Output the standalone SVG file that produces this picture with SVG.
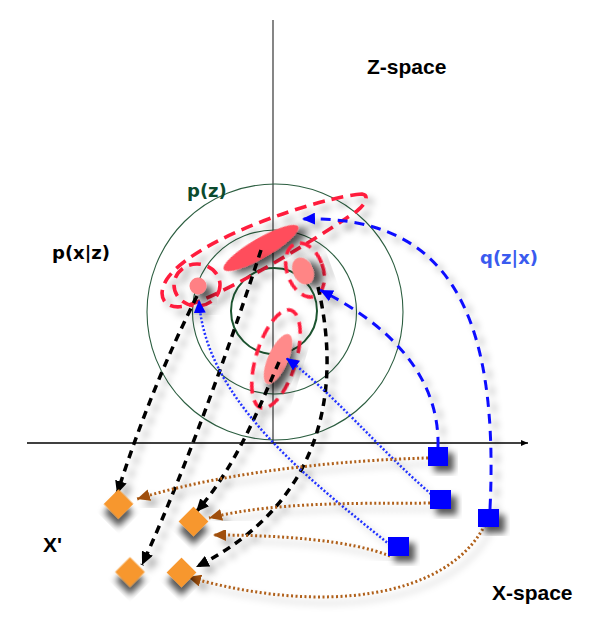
<svg xmlns="http://www.w3.org/2000/svg" width="607" height="638" viewBox="0 0 607 638">
<style>
.ring{fill:none;stroke:#2c5e40;stroke-width:1.1}
.ringin{fill:none;stroke:#1c5530;stroke-width:2}
.rd{fill:none;stroke:#ff1f3c;stroke-width:3.6;stroke-dasharray:12 7;filter:url(#shl)}
.rf{filter:url(#shr)}
.bk{fill:none;stroke:#000;stroke-width:3.5;stroke-dasharray:8 6;filter:url(#shl);marker-end:url(#ak)}
.bl{fill:none;stroke:#1010ff;stroke-width:3;stroke-dasharray:10 7;filter:url(#shl);marker-end:url(#ab)}
.bd{fill:none;stroke:#2030ff;stroke-width:2.5;stroke-dasharray:2 2;filter:url(#shl);marker-end:url(#ab)}
.br{fill:none;stroke:#b0601a;stroke-width:3;stroke-dasharray:2 2.5;filter:url(#shl);marker-end:url(#abr)}
.sq{fill:#0000ff;filter:url(#sh)}
.dm{fill:#f7972f;filter:url(#sh)}
.t{font-family:"Liberation Sans",Arial,sans-serif;font-weight:bold;font-size:21px;fill:#000}
.v{font-family:"DejaVu Sans",Verdana,sans-serif;font-weight:bold;font-size:18px}
</style>
<defs>
<filter id="sh" x="-50%" y="-50%" width="200%" height="200%">
<feDropShadow dx="6" dy="6" stdDeviation="3" flood-color="#000" flood-opacity="0.65"/>
</filter>
<filter id="shr" x="-60%" y="-60%" width="220%" height="220%">
<feDropShadow dx="7" dy="7" stdDeviation="4" flood-color="#000" flood-opacity="0.7"/>
</filter>
<filter id="shl" x="-20%" y="-20%" width="140%" height="140%">
<feDropShadow dx="6" dy="6" stdDeviation="3.5" flood-color="#000" flood-opacity="0.33"/>
</filter>
<marker id="ak" markerUnits="userSpaceOnUse" markerWidth="14" markerHeight="12" refX="13" refY="6" orient="auto"><path d="M0,0 L13,6 L0,12 z" fill="#000"/></marker>
<marker id="ab" markerUnits="userSpaceOnUse" markerWidth="14" markerHeight="12" refX="13" refY="6" orient="auto"><path d="M0,0 L13,6 L0,12 z" fill="#0000ff"/></marker>
<marker id="abr" markerUnits="userSpaceOnUse" markerWidth="14" markerHeight="12" refX="13" refY="6" orient="auto"><path d="M0,0 L13,6 L0,12 z" fill="#a0500a"/></marker>
<marker id="aa" markerUnits="userSpaceOnUse" markerWidth="8" markerHeight="6" refX="7" refY="3" orient="auto"><path d="M0,0 L7,3 L0,6 z" fill="#000"/></marker>
</defs>
<rect width="607" height="638" fill="#fff"/>
<g id="axes">
<line x1="273" y1="20" x2="273" y2="443" stroke="#444" stroke-width="1.3"/>
<path d="M27 443 H528" stroke="#000" stroke-width="1.3" marker-end="url(#aa)"/>
</g>
<g id="pz-circles">
<circle class="ring" cx="275" cy="312" r="128"/>
<circle class="ring" cx="274.5" cy="312" r="82"/>
<circle class="ringin" cx="274" cy="311" r="43"/>
</g>
<g id="z-big">
<path class="rd" d="M362 194 C322 197 195 238 167 279 C155 298 166 312 189 305 C236 289 330 230 357 211 C367 203 369 195 362 194 Z"/>
<ellipse class="rf" cx="261" cy="248" rx="43" ry="10" transform="rotate(-30 261 248)" fill="#ff4d5b"/>
</g>
<g id="z-left">
<ellipse class="rd" cx="197" cy="285" rx="23" ry="21"/>
<circle class="rf" cx="198" cy="286" r="8.5" fill="#ff8084"/>
</g>
<g id="z-right">
<ellipse class="rd" cx="305" cy="270" rx="18" ry="28" transform="rotate(-20 305 270)"/>
<ellipse class="rf" cx="303" cy="271" rx="10" ry="14" transform="rotate(-25 303 271)" fill="#ff8585"/>
</g>
<g id="z-low">
<ellipse class="rd" cx="276" cy="359" rx="20" ry="51" transform="rotate(17 276 359)"/>
<ellipse class="rf" cx="278" cy="359" rx="10" ry="27" transform="rotate(24 278 359)" fill="#ff8a8a"/>
</g>
<g id="connectors">
<path class="bk" d="M197 296 Q150 390 117 494"/>
<path class="bk" d="M261 250 C235 330 190 460 142 565"/>
<path class="bk" d="M279 362 C262 400 238 465 196 512"/>
<path class="bk" d="M318 287 C340 380 330 500 196 567"/>
<path class="bl" d="M438 447 C440 370 380 320 320 290"/>
<path class="bl" d="M490 509 C500 300 440 215 302 219"/>
<path class="bd" d="M431 494 C380 450 330 390 286 358"/>
<path class="bd" d="M390 545 C310 480 205 400 199 300"/>
<path class="br" d="M428 458 C350 460 230 470 137 499"/>
<path class="br" d="M430 503 C380 504 280 500 209 518"/>
<path class="br" d="M390 556 C350 540 280 535 213 535"/>
<path class="br" d="M487 521 C450 600 320 615 188 577"/>
</g>
<g id="x1"><rect class="sq" x="428" y="447" width="20" height="19"/></g>
<g id="x2"><rect class="sq" x="430" y="490" width="21" height="19"/></g>
<g id="x3"><rect class="sq" x="478" y="509" width="21" height="18"/></g>
<g id="x4"><rect class="sq" x="388" y="537" width="21" height="19"/></g>
<g id="xp1"><rect class="dm" x="108" y="493.5" width="21" height="21" transform="rotate(45 118.5 504)"/></g>
<g id="xp2"><rect class="dm" x="183" y="511" width="21" height="21" transform="rotate(45 193.5 521.5)"/></g>
<g id="xp3"><rect class="dm" x="119.5" y="561.5" width="21" height="21" transform="rotate(45 130 572)"/></g>
<g id="xp4"><rect class="dm" x="171" y="562" width="21" height="21" transform="rotate(45 181.5 572.5)"/></g>
<g id="labels">
<text class="t" x="367" y="74">Z-space</text>
<text class="t" x="492" y="600">X-space</text>
<text class="t" x="43" y="552">X'</text>
<text class="v" x="187" y="197" fill="#0b4a2e">p(z)</text>
<text class="v" x="52" y="259" fill="#000">p(x|z)</text>
<text class="v" x="480" y="264" fill="#3a5bef">q(z|x)</text>
</g>
</svg>
